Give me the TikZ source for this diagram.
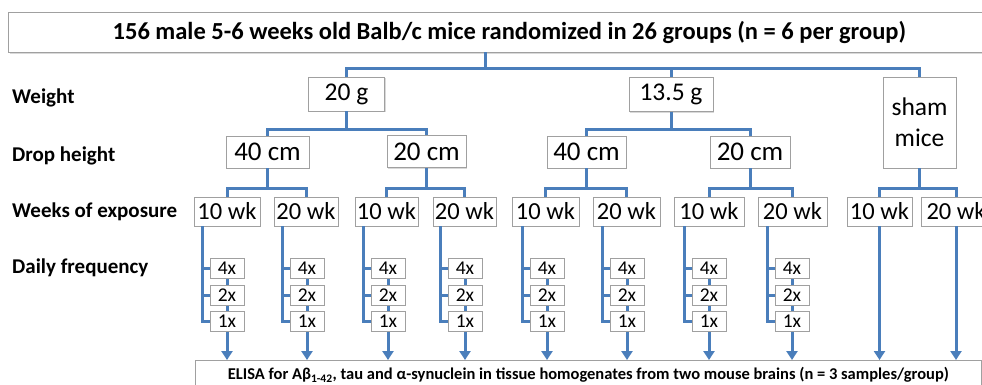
\documentclass[tikz,border=0pt]{standalone}
\usepackage{fontspec}
\setmainfont{Carlito}
\usetikzlibrary{arrows.meta,backgrounds,shadows}
\definecolor{lblue}{RGB}{74,126,187}
\definecolor{bgray}{RGB}{160,160,160}
\tikzset{
  box/.style={draw=bgray,line width=0.8pt,fill=white,inner sep=0pt,align=center,
    drop shadow={shadow xshift=1.2pt,shadow yshift=-1.2pt,fill=black!25,opacity=0.6}},
  wbox/.style={box,minimum height=34pt,font=\fontsize{25.5}{26}\selectfont},
  dbox/.style={box,minimum height=32pt,minimum width=80pt,font=\fontsize{27}{28}\selectfont},
  kbox/.style={box,minimum height=29pt,minimum width=66pt,font=\fontsize{24.5}{25}\selectfont},
  fbox/.style={box,minimum height=20pt,minimum width=34pt,font=\fontsize{19.5}{20}\selectfont},
  lab/.style={anchor=west,inner sep=0pt,font=\bfseries\fontsize{21}{22}\selectfont},
  conn/.style={draw=lblue,line width=3pt},
  arr/.style={draw=lblue,line width=3pt,-{Triangle[width=11pt,length=9pt]}}
}
\begin{document}
\begin{tikzpicture}[x=1pt,y=-1pt]
\useasboundingbox (0,0) rectangle (982,384);
% title
\node[box,minimum width=995pt,minimum height=40pt,anchor=north west,font=\bfseries\fontsize{24.5}{26}\selectfont] (title) at (8,12) {\hspace*{7pt}156 male 5-6 weeks old Balb/c mice randomized in 26 groups (n = 6 per group)};
\coordinate (tstem) at (485,52);
% left labels
\node[lab] (lw) at (12,98) {Weight};
\node[lab] (ld) at (12,156) {Drop height};
\node[lab] (lk) at (12,212) {Weeks of exposure};
\node[lab] (lf) at (12,268) {Daily frequency};
% bar levels
\coordinate (b1) at (0,68);
\coordinate (b2) at (0,129);
\coordinate (b3) at (0,188);
% weight
\node[wbox,minimum width=76pt] (w20) at (346.5,94) {20 g};
\node[wbox,minimum width=84pt] (w13) at (671,94.5) {13.5 g};
\node[box,minimum width=73pt,minimum height=91pt,font=\fontsize{25.5}{31}\selectfont] (sham) at (919.5,122.5) {sham\\mice};
% drop
\node[dbox,minimum width=83pt] (d1) at (267.5,152) {40 cm};
\node[dbox,minimum width=79pt] (d2) at (426.5,151.5) {20 cm};
\node[dbox,minimum width=79pt] (d3) at (586.5,152) {40 cm};
\node[dbox,minimum width=80pt] (d4) at (750,152) {20 cm};
% weeks
\node[kbox] (k1) at (227,211.5) {10 wk};
\node[kbox,minimum width=64pt] (k2) at (306,211.5) {20 wk};
\node[kbox,minimum width=63pt] (k3) at (386.5,211.5) {10 wk};
\node[kbox,minimum width=63pt] (k4) at (464.5,211.5) {20 wk};
\node[kbox,minimum width=67pt] (k5) at (545.5,211.5) {10 wk};
\node[kbox,minimum width=67pt] (k6) at (626.5,211.5) {20 wk};
\node[kbox,minimum width=70pt] (k7) at (709,211.5) {10 wk};
\node[kbox,minimum width=69pt] (k8) at (792.5,211.5) {20 wk};
\node[kbox,minimum width=65pt] (k9) at (879.5,211.5) {10 wk};
\node[kbox,minimum width=70pt] (k10) at (956,211.5) {20 wk};
% ELISA
\node[box,minimum width=786pt,minimum height=40pt,anchor=north west,font=\bfseries\fontsize{16.5}{18}\selectfont] (elisa) at (195,360) {\raisebox{14pt}{ELISA for Aβ\textsubscript{1-42}, tau and α-synuclein in tissue homogenates from two mouse brains (n = 3 samples/group)}};
% frequency boxes and connectors
\foreach \i/\x in {1/227,2/307,3/388,4/465,5/547,6/627,7/709,8/792}{
  \node[fbox] (f\i a) at (\x,268) {4x};
  \node[fbox] (f\i b) at (\x,295) {2x};
  \node[fbox] (f\i c) at (\x,321) {1x};
  \coordinate (s\i) at (\x-25,226);
  \draw[conn] (s\i) |- (f\i c.west);
  \draw[conn] (s\i) |- (f\i b.west);
  \draw[conn] (s\i) |- (f\i a.west);
  \begin{scope}[on background layer]
    \draw[arr] (f\i a.center) -- (f\i a.center |- elisa.north);
  \end{scope}
}
\draw[arr] (k9.south) -- (k9.south |- elisa.north);
\draw[arr] (k10.south) -- (k10.south |- elisa.north);
% tree connectors
\draw[conn] (tstem) -- (tstem |- b1) -| (w20.north);
\draw[conn] (tstem |- b1) -| (w13.north);
\draw[conn] (tstem |- b1) -| (sham.north);
\draw[conn] (w20.south) -- (w20.south |- b2) -| (d1.north);
\draw[conn] (w20.south |- b2) -| (d2.north);
\draw[conn] (w13.south) -- (w13.south |- b2) -| (d3.north);
\draw[conn] (w13.south |- b2) -| (d4.north);
\draw[conn] (d1.south) -- (d1.south |- b3) -| (k1.north);
\draw[conn] (d1.south |- b3) -| (k2.north);
\draw[conn] (d2.south) -- (d2.south |- b3) -| (k3.north);
\draw[conn] (d2.south |- b3) -| (k4.north);
\draw[conn] (d3.south) -- (d3.south |- b3) -| (k5.north);
\draw[conn] (d3.south |- b3) -| (k6.north);
\draw[conn] (d4.south) -- (d4.south |- b3) -| (k7.north);
\draw[conn] (d4.south |- b3) -| (k8.north);
\draw[conn] (sham.south) -- (sham.south |- b3) -| (k9.north);
\draw[conn] (sham.south |- b3) -| (k10.north);
\end{tikzpicture}
\end{document}
